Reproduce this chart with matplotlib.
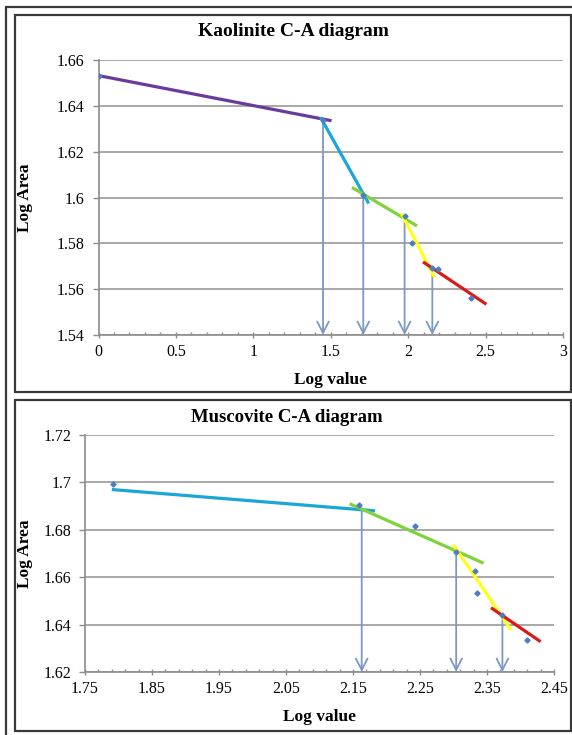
import matplotlib.pyplot as plt
from matplotlib.patches import Rectangle
from matplotlib.ticker import MultipleLocator, FuncFormatter

plt.rcParams.update({
    "font.family": ["Liberation Serif", "DejaVu Serif"],
    "font.size": 11,
})

# Kaolinite: data points, fitted segments, threshold arrows
kao_x = [0.0, 1.45, 1.71, 1.977, 2.025, 2.156, 2.19, 2.403]
kao_y = [1.6532, 1.634, 1.601, 1.592, 1.580, 1.5694, 1.5686, 1.5563]
kao_fit_x = [[0.0, 1.505], [1.434, 1.745], [1.637, 2.057], [1.956, 2.171], [2.096, 2.505]]
kao_fit_y = [[1.6532, 1.6335], [1.635, 1.5974], [1.6044, 1.5876], [1.5931, 1.565], [1.5719, 1.5534]]
kao_thr_x = [1.45, 1.71, 1.977, 2.156]
kao_thr_y = [1.634, 1.601, 1.592, 1.5694]

# Muscovite
mus_x = [1.792, 2.159, 2.2425, 2.304, 2.332, 2.3356, 2.373, 2.409]
mus_y = [1.6995, 1.6906, 1.6814, 1.6708, 1.6628, 1.6532, 1.644, 1.6335]
mus_fit_x = [[1.79, 2.183], [2.145, 2.345], [2.2997, 2.386], [2.356, 2.43]]
mus_fit_y = [[1.697, 1.688], [1.691, 1.6659], [1.6737, 1.6377], [1.6471, 1.6328]]
mus_thr_x = [2.163, 2.304, 2.373]
mus_thr_y = [1.6877, 1.6708, 1.644]

kao_colors = ["#6A3A9C", "#1BA6D9", "#7ED23A", "#FFFF1A", "#D91A1A"]
mus_colors = ["#1BA6D9", "#7ED23A", "#FFFF1A", "#D91A1A"]

W, H = 572, 735
fig = plt.figure(figsize=(W / 100, H / 100), dpi=100)


def px_rect(x0, y0, x1, y1, **kw):
    return Rectangle((x0 / W, 1 - y1 / H), (x1 - x0) / W, (y1 - y0) / H,
                     transform=fig.transFigure, fill=False, **kw)


fig.add_artist(px_rect(6, 7, 580, 745, ec="#3a3a3a", lw=1.6))
fig.add_artist(px_rect(15, 15, 571, 392, ec="#3a3a3a", lw=1.6))
fig.add_artist(px_rect(15, 400, 571, 731, ec="#3a3a3a", lw=1.6))

fmt = FuncFormatter(lambda v, p: f"{round(v, 4):g}")


def style(ax, xlim, ylim, xmaj, xmin, ystep, xoff=0.0, xmoff=0.0):
    ax.set_xlim(*xlim)
    ax.set_ylim(*ylim)
    ax.xaxis.set_major_locator(MultipleLocator(xmaj, offset=xoff))
    ax.xaxis.set_minor_locator(MultipleLocator(xmin, offset=xmoff))
    ax.yaxis.set_major_locator(MultipleLocator(ystep))
    ax.xaxis.set_major_formatter(fmt)
    ax.yaxis.set_major_formatter(fmt)
    for s in ["top", "right"]:
        ax.spines[s].set_visible(False)
    for s in ["left", "bottom"]:
        ax.spines[s].set_color("#8c8c8c")
        ax.spines[s].set_linewidth(1.2)
    ax.grid(axis="y", color="#a8a8a8", lw=1.4)
    ax.set_axisbelow(True)
    ax.tick_params(axis="x", which="major", direction="inout", length=5,
                   color="#8c8c8c", width=1.0, pad=4, labelsize=11.5)
    ax.tick_params(axis="x", which="minor", direction="in", length=2.5,
                   color="#8c8c8c", width=1.0)
    ax.tick_params(axis="y", which="major", direction="out", length=4,
                   color="#8c8c8c", width=1.0, pad=6, labelsize=11.5)


def draw(ax, xs, ys, fx, fy, colors, tx, ty, ybase):
    for sx, sy, c in zip(fx, fy, colors):
        ax.plot(sx, sy, color=c, lw=2.3, solid_capstyle="butt", zorder=3)
    ax.plot(xs, ys, ls="none", marker="D", ms=2.6, color="#4F7DBD", zorder=4)
    for x, y in zip(tx, ty):
        ax.annotate("", xy=(x, ybase), xytext=(x, y),
                    arrowprops=dict(arrowstyle="->, head_length=0.75, head_width=0.38",
                                    color="#7B98C6", lw=1.3,
                                    shrinkA=0, shrinkB=0), zorder=2)


def labels(ax, xy_x, xy_y):
    ax.set_xlabel("Log value", fontweight="bold", fontsize=12.5)
    ax.set_ylabel("Log Area", fontweight="bold", fontsize=12.5)
    ax.xaxis.label.set_verticalalignment("center")
    ax.yaxis.label.set_verticalalignment("center")
    ax.xaxis.set_label_coords(0.5, xy_x)
    ax.yaxis.set_label_coords(xy_y, 0.5)


# top chart
ax1 = fig.add_axes([98.5 / W, 1 - 335 / H, 464.5 / W, 275 / H])
style(ax1, (0, 3), (1.54, 1.66), 0.5, 0.1, 0.02)
draw(ax1, kao_x, kao_y, kao_fit_x, kao_fit_y, kao_colors, kao_thr_x, kao_thr_y, 1.54)
labels(ax1, -0.164, -0.158)
fig.text(293 / W, 1 - 31 / H, "Kaolinite C-A diagram", ha="center", va="center",
         fontweight="bold", fontsize=14)

# bottom chart
ax2 = fig.add_axes([85 / W, 1 - 672 / H, 469 / W, 237 / H])
style(ax2, (1.75, 2.45), (1.62, 1.72), 0.1, 0.02, 0.02, xoff=0.05, xmoff=0.01)
draw(ax2, mus_x, mus_y, mus_fit_x, mus_fit_y, mus_colors, mus_thr_x, mus_thr_y, 1.62)
labels(ax2, -0.19, -0.128)
fig.text(287 / W, 1 - 417 / H, "Muscovite C-A diagram", ha="center", va="center",
         fontweight="bold", fontsize=13.5)

fig.savefig("out.png", dpi=100)
